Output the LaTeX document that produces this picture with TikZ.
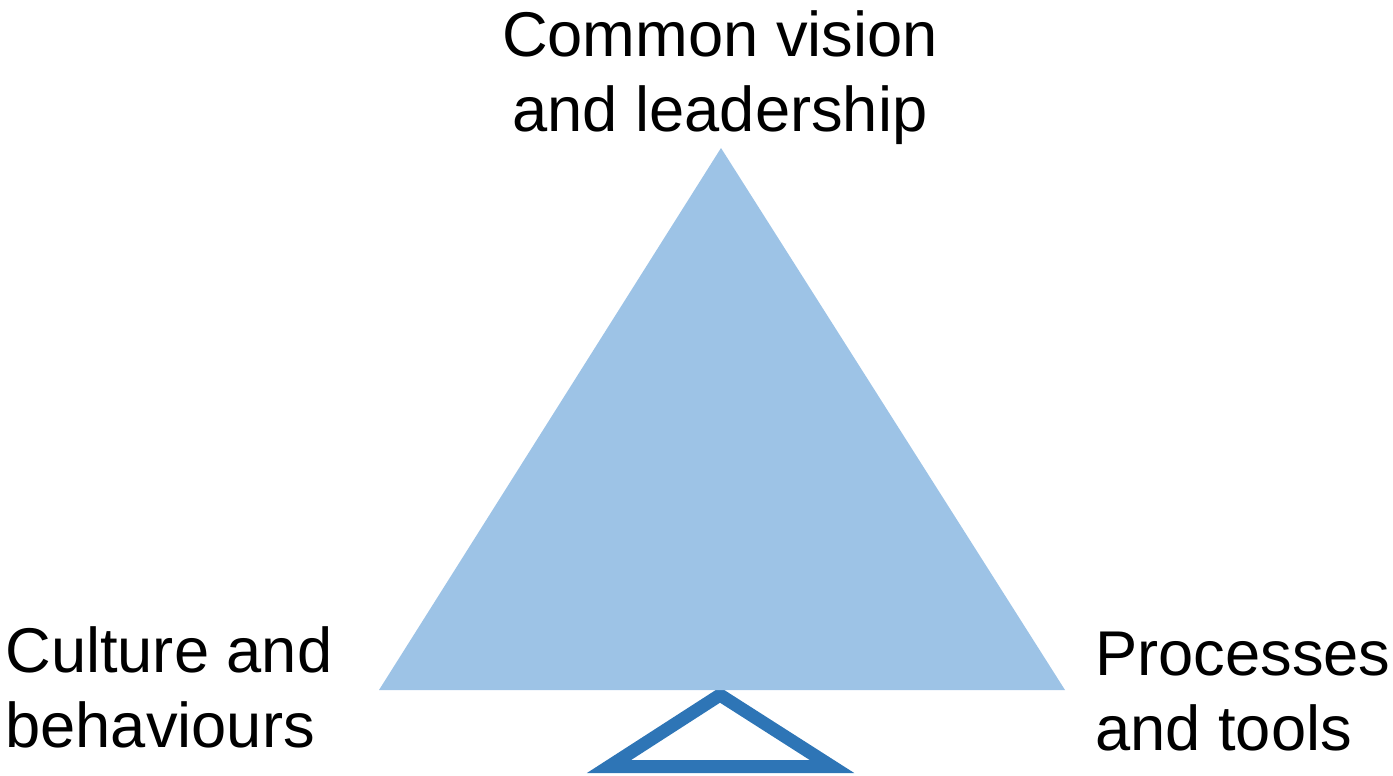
\documentclass[tikz,border=0pt]{standalone}
\usepackage{fontspec}
\setmainfont{Liberation Sans}
\definecolor{lightblue}{HTML}{9DC3E6}
\definecolor{darkblue}{HTML}{2E75B6}

\begin{document}
\begin{tikzpicture}[x=0.02cm, y=-0.02cm,
    lbl/.style={inner sep=0pt, align=left, font=\fontsize{36}{42.5}\selectfont}]
\useasboundingbox (0,0) rectangle (1393,775);
    \coordinate (t) at (721, 148);
    \coordinate (l) at (379, 690);
    \coordinate (r) at (1065, 690);
    \coordinate (st) at (720, 695);
    \coordinate (sl) at (609, 766.5);
    \coordinate (sr) at (832, 766.5);
    \draw[darkblue, line width=0.26cm, line join=miter] (st) -- (sl) -- (sr) -- cycle;
    \fill[lightblue] (t) -- (l) -- (r) -- cycle;
    \node[lbl, align=center, anchor=base] (v) at (720, 131) {Common vision\\and leadership};
    \node[lbl, anchor=base west] (c) at (5, 747) {Culture and\\behaviours};
    \node[lbl, anchor=base west] (p) at (1095, 750) {Processes\\and tools};
\end{tikzpicture}
\end{document}
